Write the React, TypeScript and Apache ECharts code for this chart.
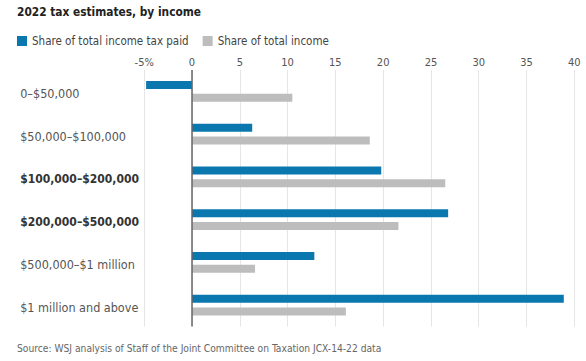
import React, { useEffect, useRef } from "react";
import * as echarts from "echarts";

const categories = [
  "0–$50,000",
  "$50,000–$100,000",
  "$100,000–$200,000",
  "$200,000–$500,000",
  "$500,000–$1 million",
  "$1 million and above",
];
const boldCategories = ["$100,000–$200,000", "$200,000–$500,000"];
const taxPaid = [-4.8, 6.3, 19.8, 26.8, 12.8, 38.9];
const incomeShare = [10.5, 18.6, 26.5, 21.6, 6.6, 16.1];
const seriesNames = ["Share of total income tax paid", "Share of total income"];

const FONT = "'DejaVu Sans Condensed', 'Liberation Sans', Arial, sans-serif";

export default function App() {
  const ref = useRef<HTMLDivElement>(null);
  useEffect(() => {
    if (!ref.current) return;
    const chart = echarts.init(ref.current, undefined, { renderer: "svg" });
    chart.setOption({
      animation: false,
      backgroundColor: "#ffffff",
      textStyle: { fontFamily: FONT },
      title: {
        text: "2022 tax estimates, by income",
        left: 12,
        top: 1,
        textStyle: { fontFamily: FONT, fontSize: 11.8, fontWeight: "bold", color: "#222" },
      },
      legend: {
        left: 12,
        top: 30,
        icon: "rect",
        itemWidth: 10,
        itemHeight: 10,
        itemGap: 14,
        data: seriesNames,
        textStyle: { fontFamily: FONT, fontSize: 11.5, color: "#444" },
      },
      graphic: [
        {
          type: "text",
          left: 17,
          top: 343,
          style: {
            text: "Source: WSJ analysis of Staff of the Joint Committee on Taxation JCX-14-22 data",
            fontFamily: FONT,
            fontSize: 10.2,
            fill: "#666",
          },
        },
      ],
      grid: { left: 144.2, right: 11.7, top: 70, bottom: 34.5 },
      xAxis: {
        type: "value",
        position: "top",
        min: -5,
        max: 40,
        interval: 5,
        axisLine: { show: false },
        axisTick: { show: false },
        axisLabel: {
          margin: 2,
          fontFamily: FONT,
          fontSize: 11,
          color: "#555",
          formatter: (v: number) => (v === -5 ? "-5%" : String(v)),
        },
        splitLine: { show: true, lineStyle: { color: "#e6e6e6", width: 1 } },
      },
      yAxis: {
        type: "category",
        inverse: true,
        data: categories,
        axisLine: { show: false, onZero: false },
        axisTick: { show: false },
        axisLabel: {
          align: "left",
          margin: 124,
          padding: [5, 0, 0, 0],
          fontFamily: FONT,
          fontSize: 12.5,
          color: "#555",
          formatter: (v: string) => (boldCategories.includes(v) ? `{b|${v}}` : `{n|${v}}`),
          rich: {
            b: { fontFamily: FONT, fontSize: 12, fontWeight: "bold", color: "#333" },
            n: { fontFamily: FONT, fontSize: 12.5, color: "#555" },
          },
        },
      },
      series: [
        {
          name: seriesNames[0],
          type: "bar",
          data: taxPaid,
          barWidth: 8,
          barGap: "60%",
          itemStyle: { color: "#0a78ae" },
          markLine: {
            silent: true,
            symbol: "none",
            label: { show: false },
            lineStyle: { color: "#666", width: 1.5, type: "solid" },
            data: [{ xAxis: 0 }],
          },
        },
        {
          name: seriesNames[1],
          type: "bar",
          data: incomeShare,
          barWidth: 8,
          itemStyle: { color: "#bdbdbd" },
        },
      ],
    });
    return () => chart.dispose();
  }, []);
  return (
    <div
      ref={ref}
      style={{ position: "fixed", left: 0, top: 0, width: 586, height: 361 }}
    />
  );
}
